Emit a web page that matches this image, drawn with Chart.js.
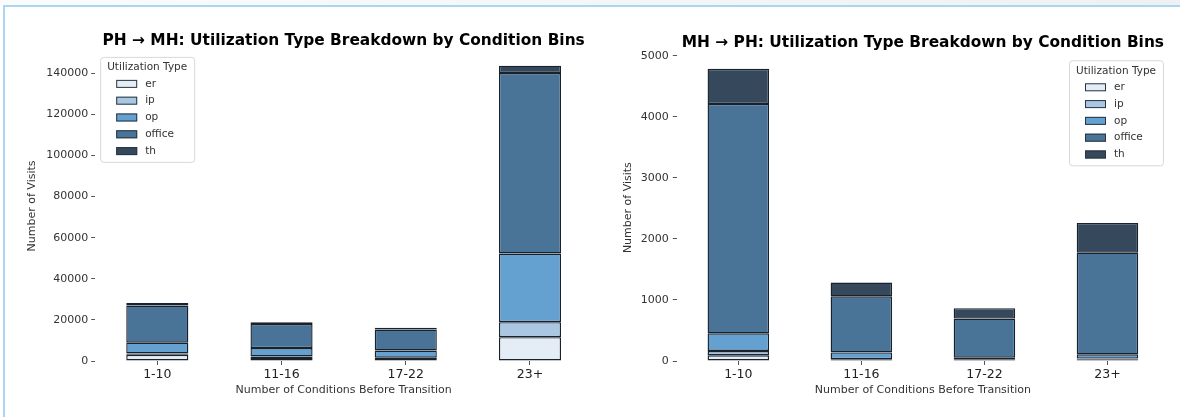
<!DOCTYPE html>
<html>
<head>
<meta charset="utf-8">
<script src="https://cdn.jsdelivr.net/npm/chart.js@4.4.1/dist/chart.umd.min.js"></script>
<style>
  body { margin: 0; background: #fff; width: 1180px; height: 417px; overflow: hidden; position: relative; }
  #topband { position: absolute; left: 0; top: 0; width: 1180px; height: 5px; background: linear-gradient(to right, #fafbfc, #eef0f2); }
  #frame { position: absolute; left: 3px; top: 5px; width: 1177px; height: 412px; border-top: 2px solid #a9d7f1; border-left: 2px solid #a9d7f1; box-sizing: border-box; }
  .wrap { position: absolute; top: 0; height: 417px; }
</style>
</head>
<body>
<div id="topband"></div>
<div id="frame"></div>
<div class="wrap" style="left:0; width:615px;"><canvas id="phmhChart"></canvas></div>
<div class="wrap" style="left:615px; width:565px;"><canvas id="mhphChart"></canvas></div>
<script>
// categories et types
const categories = ['1-10', '11-16', '17-22', '23+'];
const utilTypes = ['er', 'ip', 'op', 'office', 'th'];
const typeColors = ['#e4ecf6', '#a9c6e2', '#64a0d0', '#4a7398', '#35485c'];

// PH -> MH
const phmhEr = [3000, 1500, 1000, 11600];
const phmhIp = [700, 700, 600, 7300];
const phmhOp = [5200, 4100, 3500, 33400];
const phmhOffice = [18100, 11700, 10200, 87800];
const phmhTh = [1200, 900, 900, 3600];
const phmhTicks = [0, 20000, 40000, 60000, 80000, 100000, 120000, 140000];

// MH -> PH
const mhphEr = [93, 15, 10, 20];
const mhphIp = [71, 15, 10, 20];
const mhphOp = [290, 110, 35, 70];
const mhphOffice = [3759, 920, 640, 1665];
const mhphTh = [574, 225, 170, 487];
const mhphTicks = [0, 1000, 2000, 3000, 4000, 5000];

const FONT = '"DejaVu Sans", sans-serif';

function roundBox(ctx, x, y, w, h, r) {
    ctx.beginPath();
    ctx.moveTo(x + r, y);
    ctx.arcTo(x + w, y, x + w, y + h, r);
    ctx.arcTo(x + w, y + h, x, y + h, r);
    ctx.arcTo(x, y + h, x, y, r);
    ctx.arcTo(x, y, x + w, y, r);
    ctx.closePath();
}

// legende dans la zone du graphique (comme matplotlib)
const legendBox = {
    id: 'legendBox',
    afterDatasetsDraw(chart, args, opts) {
        const ctx = chart.ctx;
        const area = chart.chartArea;
        const w = 94, h = 105;
        const x = opts.side === 'right' ? area.right - 6 - w : area.left + 5;
        const y = area.top + 6;
        ctx.save();
        roundBox(ctx, x + 0.5, y + 0.5, w, h, 3);
        ctx.fillStyle = 'rgba(255,255,255,0.85)';
        ctx.fill();
        ctx.strokeStyle = '#d8d8d8';
        ctx.lineWidth = 1;
        ctx.stroke();

        ctx.font = '10.5px ' + FONT;
        ctx.fillStyle = '#333';
        ctx.textAlign = 'center';
        ctx.textBaseline = 'middle';
        ctx.fillText('Utilization Type', x + w / 2, y + 10.5);

        ctx.textAlign = 'left';
        chart.data.datasets.forEach((ds, i) => {
            const cy = y + 27 + i * 16.8;
            ctx.fillStyle = ds.backgroundColor;
            ctx.fillRect(x + 16, cy - 4, 21, 8);
            ctx.strokeStyle = '#2a3540';
            ctx.strokeRect(x + 16.5, cy - 3.5, 20, 7);
            ctx.fillStyle = '#333';
            ctx.fillText(ds.label, x + 45, cy);
        });
        ctx.restore();
    }
};

function makeChart(id, opts) {
    const datasets = utilTypes.map((t, i) => ({
        label: t,
        data: opts.series[i],
        backgroundColor: typeColors[i],
        borderColor: '#17222d',
        borderWidth: 1.4,
        borderSkipped: false,
        barPercentage: 0.5,
        categoryPercentage: 1
    }));

    return new Chart(document.getElementById(id), {
        type: 'bar',
        data: { labels: categories, datasets: datasets },
        plugins: [legendBox],
        options: {
            responsive: true,
            maintainAspectRatio: false,
            animation: false,
            layout: { padding: { left: 0, right: opts.rightPad, top: 0, bottom: 0 } },
            plugins: {
                legend: { display: false },
                tooltip: { enabled: false },
                legendBox: { side: opts.legendSide },
                title: {
                    display: true,
                    text: opts.title,
                    fullSize: false,
                    color: '#000',
                    font: { family: FONT, size: 15.4, weight: 'bold' },
                    padding: { top: opts.titleTop, bottom: opts.titleBottom }
                }
            },
            scales: {
                x: {
                    stacked: true,
                    offset: true,
                    border: { display: false },
                    grid: { display: true, drawOnChartArea: false, offset: false, tickLength: 4, color: '#555' },
                    ticks: { color: '#222', padding: 2, font: { family: FONT, size: 12.5 } },
                    title: {
                        display: true,
                        text: 'Number of Conditions Before Transition',
                        color: '#333',
                        font: { family: FONT, size: 11 },
                        padding: { top: 0, bottom: 20 }
                    },
                    afterFit(scale) { scale.height = 56; }
                },
                y: {
                    stacked: true,
                    min: 0,
                    max: opts.yMax,
                    border: { display: false },
                    grid: { display: true, drawOnChartArea: false, tickLength: 4, color: '#555' },
                    ticks: {
                        color: '#333',
                        padding: opts.tickPad,
                        font: { family: FONT, size: 11 },
                        callback: v => String(v)
                    },
                    afterBuildTicks(scale) { scale.ticks = opts.ticks.map(v => ({ value: v })); },
                    title: {
                        display: true,
                        text: 'Number of Visits',
                        color: '#333',
                        font: { family: FONT, size: 11 },
                        padding: { top: opts.yTitlePad, bottom: 0 }
                    },
                    afterFit(scale) { scale.width = opts.yWidth; }
                }
            }
        }
    });
}

makeChart('phmhChart', {
    title: 'PH \u2192 MH: Utilization Type Breakdown by Condition Bins',
    series: [phmhEr, phmhIp, phmhOp, phmhOffice, phmhTh],
    ticks: phmhTicks,
    yMax: 150885,
    yWidth: 95.2,
    rightPad: 22.9,
    tickPad: 3,
    yTitlePad: 25.9,
    titleTop: 31.7,
    titleBottom: 0.7,
    legendSide: 'left'
});

makeChart('mhphChart', {
    title: 'MH \u2192 PH: Utilization Type Breakdown by Condition Bins',
    series: [mhphEr, mhphIp, mhphOp, mhphOffice, mhphTh],
    ticks: mhphTicks,
    yMax: 5026,
    yWidth: 61.8,
    rightPad: 11,
    tickPad: 4,
    yTitlePad: 6.1,
    titleTop: 33.4,
    titleBottom: 2.4,
    legendSide: 'right'
});
</script>
</body>
</html>
